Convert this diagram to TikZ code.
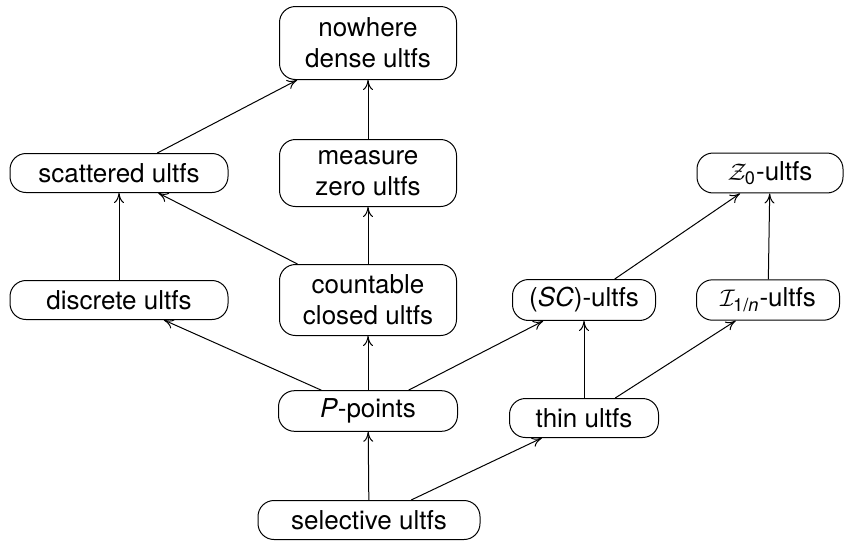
\documentclass[tikz,border=0pt]{standalone}
\usepackage{amsmath}
\usepackage{fontspec}
\setmainfont{TeX Gyre Heros}
\usepackage{tikz}
\usetikzlibrary{arrows.meta}

\begin{document}
\begin{tikzpicture}[
    x=0.5pt, y=-0.5pt,
    every node/.style={
        rectangle, draw, rounded corners=8pt, line width=0.5pt,
        align=center, inner xsep=6pt, inner ysep=4pt,
        minimum height=19.5pt,
        font=\fontsize{13}{15.6}\selectfont
    },
    mid/.style   ={minimum width=88.5pt},
    side/.style  ={minimum width=109pt},
    right/.style ={minimum width=73pt},
    imp/.style   ={draw, -{To[length=5pt,width=5pt]}, line width=0.5pt}
]
\useasboundingbox (0,0) rectangle (844,541);

% top row
\node [mid,minimum height=36.5pt]  (nwd)  at (368,43)  {nowhere\\dense ultfs};
% second row
\node [side] (scat) at (119,173) {scattered ultfs};
\node [mid,minimum height=33.5pt]  (mz)   at (368,173) {measure\\zero ultfs};
\node [right] (z0)  at (770,173) {$\mathcal{Z}_{\text{0}}$-ultfs};
% third row
\node [side] (disc) at (119,300) {discrete ultfs};
\node [mid,minimum height=35.5pt]  (ccl)  at (368,300) {countable\\closed ultfs};
\node [right,minimum width=71.5pt] (sc) at (584,300) {(\textit{SC})-ultfs};
\node [right,minimum width=71.5pt] (ion) at (768,300) {$\mathcal{I}_{\text{1/\textit{n}}}$-ultfs};
% fourth row
\node [mid,minimum width=89.5pt] (pp) at (368,411) {\textit{P}-points};
\node [minimum width=74.5pt] (thin) at (584,418) {thin ultfs};
% bottom
\node [minimum width=111pt] (sel) at (369,520) {selective ultfs};

\path [imp] (scat) -- (nwd);
\path [imp] (mz) -- (nwd);
\path [imp] (disc) -- (scat);
\path [imp] (ccl) -- (scat);
\path [imp] (ccl) -- (mz);
\path [imp] (sc) -- (z0);
\path [imp] (ion) -- (z0);
\path [imp] (pp) -- (disc);
\path [imp] (pp) -- (ccl);
\path [imp] (pp) -- (sc);
\path [imp] (thin) -- (sc);
\path [imp] (thin) -- (ion);
\path [imp] (sel) -- (pp);
\path [imp] (sel) -- (thin);
\end{tikzpicture}
\end{document}
